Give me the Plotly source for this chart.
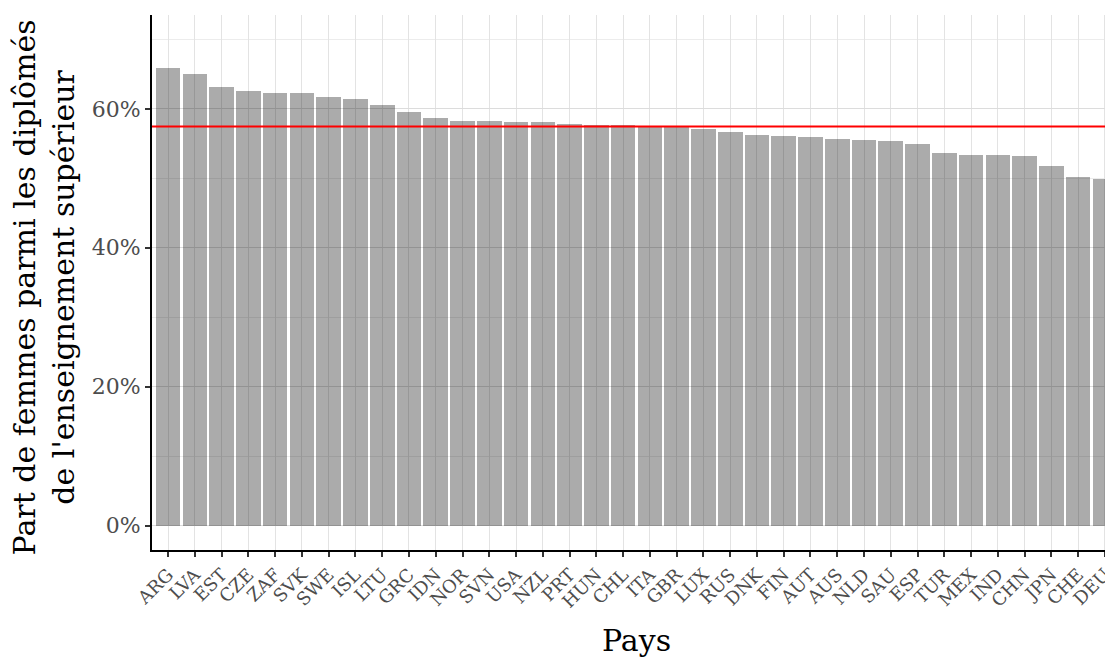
import plotly.graph_objects as go

countries = ["ARG", "LVA", "EST", "CZE", "ZAF", "SVK", "SWE", "ISL", "LTU", "GRC",
             "IDN", "NOR", "SVN", "USA", "NZL", "PRT", "HUN", "CHL", "ITA", "GBR",
             "LUX", "RUS", "DNK", "FIN", "AUT", "AUS", "NLD", "SAU", "ESP", "TUR",
             "MEX", "IND", "CHN", "JPN", "CHE", "DEU"]
share_women = [65.9, 65.0, 63.2, 62.6, 62.3, 62.3, 61.7, 61.4, 60.6, 59.6,
               58.7, 58.3, 58.3, 58.1, 58.1, 57.8, 57.7, 57.6, 57.5, 57.4,
               57.1, 56.7, 56.3, 56.1, 56.0, 55.7, 55.5, 55.3, 55.0, 53.7,
               53.4, 53.4, 53.2, 51.8, 50.2, 49.9]
reference_line = 57.45
y_ticks = [0, 20, 40, 60]
y_tick_labels = ["0%", "20%", "40%", "60%"]
x_title = "Pays"
y_title = "Part de femmes parmi les diplômés<br>de l'enseignement supérieur"

FONT = "DejaVu Serif"

fig = go.Figure()
fig.add_trace(go.Bar(
    x=countries, y=share_women,
    marker=dict(color="rgba(0,0,0,0.33)", line=dict(width=0)),
    width=0.92, showlegend=False,
))
fig.add_shape(type="line", xref="paper", x0=0, x1=1, yref="y",
              y0=reference_line, y1=reference_line,
              line=dict(color="#ff0000", width=2))

fig.add_annotation(text=y_title, xref="paper", yref="paper", x=-0.111, y=0.4916,
                   xanchor="center", yanchor="middle", textangle=-90, showarrow=False,
                   font=dict(size=30, family=FONT, color="black"))
fig.add_annotation(text=x_title, xref="paper", yref="paper", x=0.4995, y=-0.170,
                   xanchor="center", yanchor="middle", showarrow=False,
                   font=dict(size=30, family=FONT, color="black"))

fig.update_layout(
    template="none",
    width=1113, height=658,
    margin=dict(l=144, r=0, t=7, b=116),
    plot_bgcolor="white", paper_bgcolor="white",
    font=dict(family=FONT, color="black"),
    bargap=0,
)
fig.update_xaxes(
    automargin=False,
    range=[-0.6, len(countries) - 0.4],
    tickangle=-45, tickfont=dict(size=18, color="#4d4d4d", family=FONT),
    showgrid=True, gridcolor="#e3e3e3", gridwidth=1,
    showline=True, linecolor="black", linewidth=2,
    ticks="outside", ticklen=5, tickcolor="#333333", tickwidth=2,
)
fig.update_yaxes(
    automargin=False,
    range=[-3.5, 73.5],
    tickvals=y_ticks, ticktext=y_tick_labels,
    tickfont=dict(size=22, color="#4d4d4d", family=FONT),
    showgrid=True, gridcolor="#dcdcdc", gridwidth=1,
    minor=dict(dtick=10, showgrid=True, gridcolor="#ececec", gridwidth=1),
    zeroline=False,
    showline=True, linecolor="black", linewidth=2,
    ticks="outside", ticklen=5, tickcolor="#333333", tickwidth=2,
)

fig.write_html("out.html")
